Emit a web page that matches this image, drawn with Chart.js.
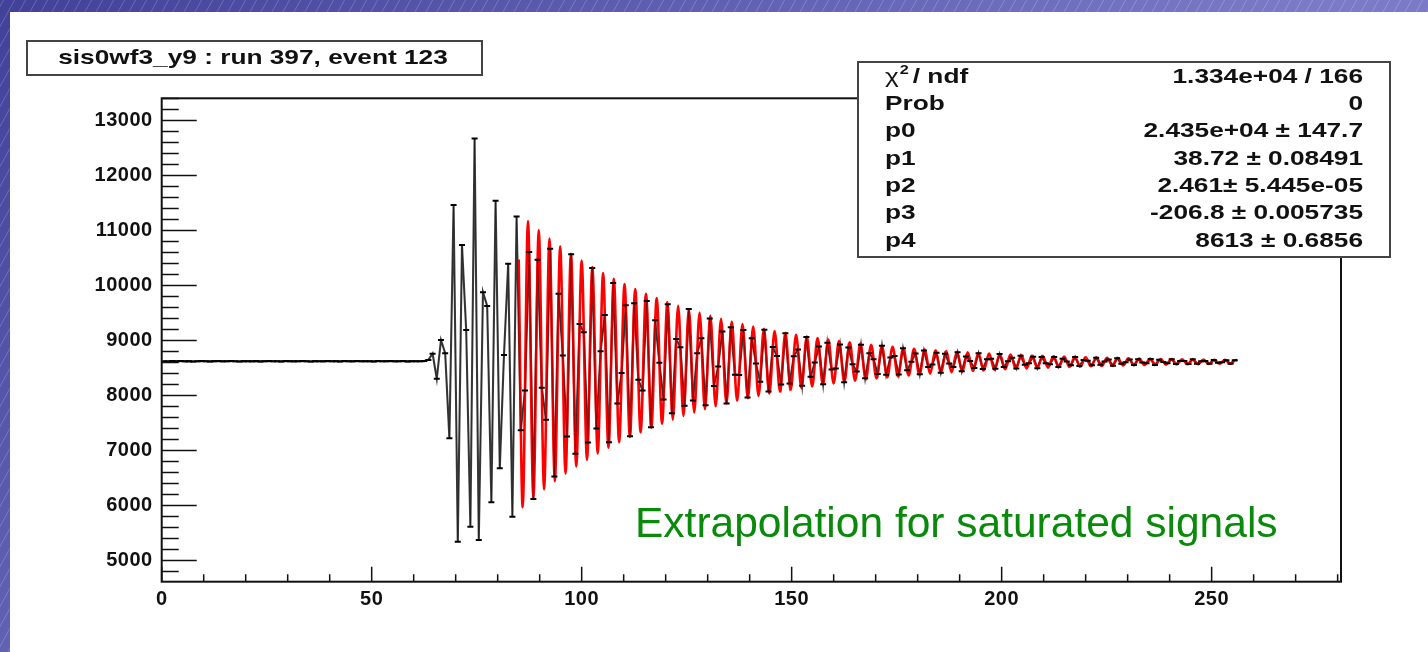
<!DOCTYPE html>
<html>
<head>
<meta charset="utf-8">
<script src="https://cdn.jsdelivr.net/npm/chart.js@4.4.1/dist/chart.umd.min.js"></script>
<style>
  html, body { margin: 0; padding: 0; background: #fff; overflow: hidden; }
  canvas { display: block; }
</style>
</head>
<body>
<canvas id="myChart" width="1428" height="652"></canvas>
<script>
// ADC samples, one per clock tick (0..255)
const adcSamples = [
  8624, 8621, 8626, 8623, 8627, 8622, 8625, 8620, 8624, 8628,
  8623, 8621, 8625, 8626, 8622, 8624, 8627, 8623, 8620, 8625,
  8624, 8622, 8626, 8621, 8625, 8628, 8623, 8624, 8621, 8626,
  8625, 8622, 8624, 8627, 8623, 8620, 8625, 8624, 8622, 8626,
  8623, 8625, 8621, 8627, 8624, 8622, 8626, 8623, 8625, 8624,
  8621, 8626, 8623, 8625, 8628, 8622, 8624, 8626, 8621, 8625,
  8623, 8624,
  8626, 8648, 8762, 8305, 9010, 8770, 7222, 11464, 5342, 10736,
  9191, 5615, 12676, 5373, 9880, 9630, 6058, 11542, 6676, 8736,
  10395, 5797, 11255,
  7370, 8090, 10610, 6120, 10470, 8140, 7560, 10668, 6530, 9850,
  8730, 7255, 10570, 6940, 9300, 9150, 7145, 10318, 7400, 8805,
  9465, 7150, 10045, 7855, 8410, 9640, 7262, 9680, 8285, 8092,
  9720, 7425, 9368, 8596, 7930, 9660, 7680, 9026, 8878, 7815,
  9575, 7908, 8770, 9040, 7822, 9402, 8175, 8526, 9166, 7855,
  9240, 8380, 8375, 9192, 7965, 9042, 8582, 8249, 9197, 8072,
  8881, 8718, 8202, 9133, 8218, 8715, 8836, 8176, 9066, 8340,
  8599, 8891, 8207, 8962, 8473, 8492, 8930, 8244, 8872, 8569,
  8435, 8922, 8315, 8768, 8662, 8391, 8906, 8379, 8690, 8717,
  8384, 8860, 8458, 8613, 8763, 8385, 8817, 8519, 8563, 8777,
  8414, 8758, 8584, 8518, 8786, 8440, 8712, 8626, 8501, 8769,
  8484, 8659, 8667, 8486, 8755, 8517, 8625, 8685, 8494, 8724,
  8560, 8587, 8704, 8498, 8701, 8587, 8570, 8701, 8521, 8667,
  8620, 8550, 8703, 8535, 8647, 8634, 8550, 8687, 8562, 8619,
  8654, 8544, 8680, 8576, 8607, 8656, 8554, 8659, 8600, 8588,
  8665, 8557, 8650, 8609, 8585, 8658, 8573, 8630, 8627, 8575,
  8659, 8578, 8623, 8629, 8580, 8646, 8595, 8607, 8640, 8576, 8644
];

// fitted curve: start, successive troughs / peaks, end
const fitX = [
  85.00, 85.95, 87.22, 88.50, 89.78, 91.05, 92.33, 93.61, 94.88, 96.16, 97.44,
  98.71, 99.99, 101.27, 102.54, 103.82, 105.10, 106.37, 107.65, 108.92, 110.20,
  111.48, 112.75, 114.03, 115.31, 116.58, 117.86, 119.14, 120.41, 121.69, 122.97,
  124.24, 125.52, 126.80, 128.07, 129.35, 130.63, 131.90, 133.18, 134.46, 135.73,
  137.01, 138.29, 139.56, 140.84, 142.11, 143.39, 144.67, 145.94, 147.22, 148.50,
  149.77, 151.05, 152.33, 153.60, 154.88, 156.16, 157.43, 158.71, 159.99, 161.26,
  162.54, 163.82, 165.09, 166.37, 167.65, 168.92, 170.20, 171.48, 172.75, 174.03,
  175.31, 176.58, 177.86, 179.14, 180.41, 181.69, 182.96, 184.24, 185.52, 186.79,
  188.07, 189.35, 190.62, 191.90, 193.18, 194.45, 195.73, 197.01, 198.28, 199.56,
  200.84, 202.11, 203.39, 204.67, 205.94, 207.22, 208.50, 209.77, 211.05, 212.33,
  213.60, 214.88, 216.16, 217.43, 218.71, 219.99, 221.26, 222.54, 223.81, 225.09,
  226.37, 227.64, 228.92, 230.20, 231.47, 232.75, 234.03, 235.30, 236.58, 237.86,
  239.13, 240.41, 241.69, 242.96, 244.24, 245.51, 246.79, 248.07, 249.34, 250.62,
  251.90, 253.18, 254.45, 255.73, 256.00
];
const fitY = [
  10472, 5968, 11173, 6136, 11009, 6294, 10857, 6442, 10713, 6581, 10579,
  6710, 10454, 6832, 10336, 6946, 10226, 7052, 10124, 7152, 10027,
  7245, 9937, 7332, 9852, 7414, 9773, 7490, 9699, 7562, 9630,
  7629, 9565, 7692, 9504, 7751, 9448, 7806, 9394, 7857, 9344,
  7905, 9298, 7951, 9254, 7993, 9213, 8032, 9175, 8069, 9139,
  8104, 9105, 8137, 9074, 8167, 9045, 8195, 9017, 8222, 8991,
  8247, 8967, 8270, 8945, 8292, 8923, 8313, 8904, 8332, 8885,
  8350, 8868, 8367, 8851, 8382, 8836, 8397, 8822, 8411, 8809,
  8424, 8796, 8436, 8785, 8447, 8774, 8458, 8763, 8468, 8754,
  8477, 8745, 8486, 8736, 8494, 8728, 8501, 8721, 8508, 8714,
  8515, 8708, 8521, 8702, 8527, 8696, 8533, 8691, 8538, 8686,
  8543, 8681, 8547, 8677, 8551, 8673, 8555, 8669, 8559, 8665,
  8562, 8662, 8566, 8659, 8569, 8656, 8572, 8653, 8574, 8651,
  8577, 8648, 8579, 8646, 8639
];

const xTickLabels = ['0', '50', '100', '150', '200', '250'];
const yTickLabels = ['5000', '6000', '7000', '8000', '9000', '10000', '11000', '12000', '13000'];
const xRange = [0, 280.8];
const yRange = [4615, 13405];

const histTitle = 'sis0wf3_y9 : run 397, event 123';
const statNames = ['χ', 'Prob', 'p0', 'p1', 'p2', 'p3', 'p4'];
const statValues = ['1.334e+04 / 166', '0', '2.435e+04 \u00b1 147.7', '38.72 \u00b1 0.08491',
  '2.461\u00b1 5.445e-05', '-206.8 \u00b1 0.005735', '8613 \u00b1 0.6856'];
const noteText = 'Extrapolation for saturated signals';

const signalPoints = adcSamples.map((v, i) => ({ x: i + 0.5, y: v }));
const fitPoints = fitX.map((x, i) => ({ x: x, y: fitY[i] }));

const paveFont = 'bold 21px "Liberation Sans", Arial, sans-serif';
const stretch = 1.25;

// text drawn a bit wider than the font, like the ROOT pave labels
function wideText(c, text, x, y, align) {
  c.save();
  c.translate(x, y);
  c.scale(stretch, 1);
  c.textAlign = align;
  c.fillText(text, 0, 0);
  const w = c.measureText(text).width * stretch;
  c.restore();
  return w;
}

// frame, inner ticks, pave boxes, background of the slide
const rootStyle = {
  id: 'rootStyle',
  beforeDraw(chart) {
    const c = chart.ctx, W = chart.width, H = chart.height;
    c.save();
    const g = c.createLinearGradient(0, 0, W * 0.4, H);
    g.addColorStop(0, '#41419a');
    g.addColorStop(1, '#7a7ac8');
    c.fillStyle = g;
    c.fillRect(0, 0, W, H);
    c.strokeStyle = 'rgba(255,255,255,0.2)';
    c.lineWidth = 1;
    for (let k = -H; k < W; k += 11) {
      c.beginPath();
      c.moveTo(k, H);
      c.lineTo(k + H * 0.55, 0);
      c.stroke();
    }
    c.fillStyle = '#fff';
    c.fillRect(10, 12, W - 10, H - 12);
    c.restore();
    c.letterSpacing = '0.5px';
  },
  afterDatasetsDraw(chart) {
    const c = chart.ctx, a = chart.chartArea;
    const xs = chart.scales.x, ys = chart.scales.y;
    c.save();
    c.strokeStyle = '#111';
    c.lineWidth = 1.5;
    c.beginPath();
    for (let v = 0; v <= xRange[1]; v += 10) {
      const px = xs.getPixelForValue(v);
      const len = v % 50 === 0 ? 15 : 7.5;
      c.moveTo(px, a.bottom);
      c.lineTo(px, a.bottom - len);
    }
    for (let v = 4800; v <= yRange[1]; v += 200) {
      const py = ys.getPixelForValue(v);
      const len = v % 1000 === 0 ? 35 : 17;
      c.moveTo(a.left, py);
      c.lineTo(a.left + len, py);
    }
    c.stroke();
    c.lineWidth = 2;
    c.strokeRect(a.left, a.top, a.right - a.left, a.bottom - a.top);
    c.restore();
  },
  afterDraw(chart) {
    const c = chart.ctx;
    c.save();
    c.letterSpacing = '0px';
    // title pave
    c.fillStyle = '#fff';
    c.fillRect(27, 41, 455, 34);
    c.strokeStyle = '#444';
    c.lineWidth = 2;
    c.strokeRect(27, 41, 455, 34);
    c.fillStyle = '#111';
    c.font = paveFont;
    c.textBaseline = 'middle';
    wideText(c, histTitle, 253, 58.5, 'center');

    // fit statistics pave
    c.fillStyle = '#fff';
    c.fillRect(858, 62, 532, 195);
    c.strokeStyle = '#444';
    c.strokeRect(858, 62, 532, 195);
    c.fillStyle = '#111';
    statNames.forEach((name, i) => {
      const y = 77 + i * 27.3;
      if (i === 0) {
        c.font = '21px "Liberation Sans", Arial, sans-serif';
        const w = wideText(c, name, 885, y, 'left');
        c.font = 'bold 13px "Liberation Sans", Arial, sans-serif';
        wideText(c, '2', 885 + w + 1, y - 7, 'left');
        c.font = paveFont;
        wideText(c, '/ ndf', 885 + w + 14, y, 'left');
      } else {
        c.font = paveFont;
        wideText(c, name, 885, y, 'left');
      }
      c.font = paveFont;
      wideText(c, statValues[i], 1363, y, 'right');
    });

    // annotation
    c.fillStyle = '#0a8a0a';
    c.font = '42.5px "Liberation Sans", Arial, sans-serif';
    c.textAlign = 'left';
    c.textBaseline = 'alphabetic';
    c.fillText(noteText, 635, 537);
    c.restore();
  }
};

const ctx = document.getElementById('myChart');
new Chart(ctx, {
  type: 'scatter',
  data: {
    datasets: [
      {
        label: 'markers',
        data: signalPoints,
        showLine: false,
        pointStyle: 'line',
        pointRadius: 3,
        borderColor: '#000',
        borderWidth: 2,
        order: 0
      },
      {
        label: 'signal over fit',
        data: signalPoints,
        showLine: true,
        borderColor: 'rgba(0,0,0,0.35)',
        borderWidth: 1,
        pointRadius: 0,
        order: 1
      },
      {
        label: 'fit',
        data: fitPoints,
        showLine: true,
        borderColor: '#ff0000',
        borderWidth: 2.6,
        pointRadius: 0,
        cubicInterpolationMode: 'monotone',
        order: 2
      },
      {
        label: 'signal',
        data: signalPoints,
        showLine: true,
        borderColor: 'rgba(35,35,35,0.85)',
        borderWidth: 2.1,
        pointRadius: 0,
        order: 3
      }
    ]
  },
  options: {
    responsive: false,
    animation: false,
    events: [],
    layout: { padding: { top: 98.3, right: 87, left: 0, bottom: 0 } },
    plugins: { legend: { display: false }, tooltip: { enabled: false } },
    scales: {
      x: {
        type: 'linear',
        min: xRange[0],
        max: xRange[1],
        grid: { display: false, drawTicks: false },
        border: { display: false },
        afterBuildTicks: s => { s.ticks = xTickLabels.map(t => ({ value: Number(t) })); },
        afterFit: s => { s.height = 70.3; },
        ticks: {
          color: '#111',
          padding: 6,
          maxRotation: 0,
          autoSkip: false,
          font: { family: 'Liberation Sans', size: 20, weight: 'bold' },
          callback: v => String(v)
        }
      },
      y: {
        type: 'linear',
        min: yRange[0],
        max: yRange[1],
        grid: { display: false, drawTicks: false },
        border: { display: false },
        afterBuildTicks: s => { s.ticks = yTickLabels.map(t => ({ value: Number(t) })); },
        afterFit: s => { s.width = 161.7; },
        ticks: {
          color: '#111',
          padding: 9,
          autoSkip: false,
          font: { family: 'Liberation Sans', size: 20, weight: 'bold' },
          callback: v => String(v)
        }
      }
    }
  },
  plugins: [rootStyle]
});
</script>
</body>
</html>
